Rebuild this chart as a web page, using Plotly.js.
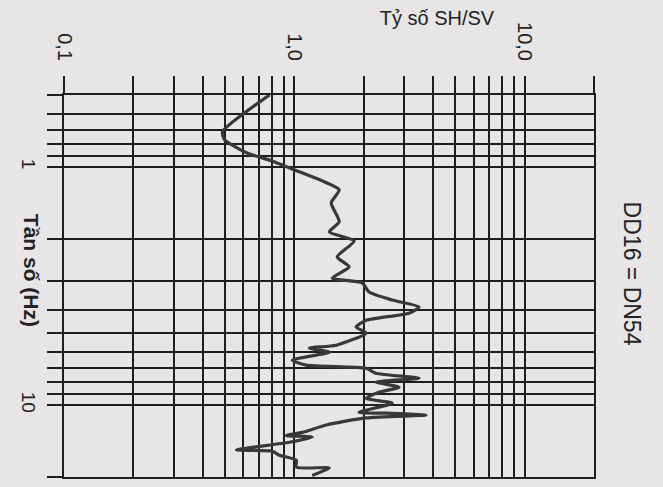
<!DOCTYPE html>
<html>
<head>
<meta charset="utf-8">
<script src="https://cdn.plot.ly/plotly-3.0.1.min.js"></script>
<style>html,body{margin:0;padding:0;background:#e7e5e6;}#chart{width:663px;height:487px;}</style>
</head>
<body>
<div id="chart"></div>
<script>
// Frequency (Hz), top to bottom
const freqHz = [0.5, 0.713, 0.77, 0.873, 0.944, 1.05, 1.156, 1.249, 1.417, 1.70, 1.876, 2.046, 2.388, 2.63, 2.93, 3.07, 3.35, 3.62, 3.87, 4.11, 4.40, 4.70, 4.98, 5.60, 5.76, 5.99, 6.47, 6.79, 7.0, 7.34, 7.70, 8.0, 8.40, 8.82, 9.35, 9.81, 10.7, 10.8, 11.0, 11.3, 12.1, 13.0, 13.4, 13.6, 14.3, 15.4, 15.6, 16.2, 17.0, 18.2, 18.3, 19.7];
// SH/SV ratio at each frequency
const shsvRatio = [0.78, 0.488, 0.498, 0.619, 0.795, 1.051, 1.349, 1.566, 1.446, 1.566, 1.418, 1.819, 1.535, 1.73, 1.461, 1.969, 2.11, 2.66, 3.48, 3.15, 2.05, 1.855, 2.05, 1.52, 1.162, 1.418, 0.98, 1.127, 2.05, 2.26, 3.48, 2.26, 2.85, 2.33, 2.05, 2.66, 1.91, 2.5, 3.73, 2.05, 1.376, 1.083, 0.923, 1.196, 0.952, 0.561, 0.803, 0.861, 1.02, 1.02, 1.418, 1.196];

const xGridVals = [0.1,0.2,0.3,0.4,0.5,0.6,0.7,0.8,0.9,1,2,3,4,5,6,7,8,9,10,20];
const xTickText = ['0,1','','','','','','','','','1,0','','','','','','','','','10,0',''];
const yGridVals = [0.5,0.6,0.7,0.8,0.9,1,2,3,4,5,6,7,8,9,10,20];
const yTickText = ['','','','','','1','','','','','','','','','10',''];

const titleText = 'Tỷ số SH/SV';
const yTitleText = 'Tần số (Hz)';
const sideLabel = 'DD16 = DN54';

const trace = {
  x: shsvRatio,
  y: freqHz,
  type: 'scatter',
  mode: 'lines',
  line: {color: '#383838', width: 3.2, shape: 'spline', smoothing: 0.6},
  hoverinfo: 'skip',
  showlegend: false
};

const axisCommon = {
  type: 'log',
  tickmode: 'array',
  tickangle: 90,
  ticks: 'outside',
  tickwidth: 2,
  tickcolor: '#1e1e1e',
  tickfont: {size: 20, color: '#222'},
  showgrid: true,
  gridcolor: '#1e1e1e',
  gridwidth: 2,
  showline: true,
  linecolor: '#1e1e1e',
  linewidth: 2,
  mirror: true,
  zeroline: false,
  fixedrange: true
};

const layout = {
  width: 663,
  height: 487,
  margin: {l: 64, r: 69, t: 95, b: 10},
  paper_bgcolor: '#e7e5e6',
  plot_bgcolor: '#e7e5e6',
  font: {family: 'Liberation Sans, Arial, sans-serif', color: '#222'},
  title: {
    text: titleText,
    x: 0.659, xanchor: 'center',
    y: 0.963, yanchor: 'middle',
    font: {size: 20, color: '#222', family: 'Liberation Sans, Arial, sans-serif'}
  },
  xaxis: Object.assign({}, axisCommon, {
    side: 'top',
    range: [-1, Math.log10(20)],
    tickvals: xGridVals,
    ticktext: xTickText,
    ticklen: 17,
    ticklabelstandoff: 8
  }),
  yaxis: Object.assign({}, axisCommon, {
    range: [Math.log10(20), Math.log10(0.5)],
    tickvals: yGridVals,
    ticktext: yTickText,
    ticklen: 15,
    ticklabelstandoff: 2,
    tickfont: {size: 19, color: '#222'}
  }),
  annotations: [
    {
      text: '<b>' + yTitleText + '</b>',
      xref: 'paper', yref: 'paper',
      x: -0.062, y: 0.542,
      xanchor: 'center', yanchor: 'middle',
      textangle: 90, showarrow: false,
      font: {size: 21, color: '#222', family: 'Liberation Sans, Arial, sans-serif'}
    },
    {
      text: sideLabel,
      xref: 'paper', yref: 'paper',
      x: 1.072, y: 0.532,
      xanchor: 'center', yanchor: 'middle',
      textangle: 90, showarrow: false,
      font: {size: 23, color: '#222', family: 'Liberation Sans, Arial, sans-serif'}
    }
  ]
};

Plotly.newPlot('chart', [trace], layout, {staticPlot: true, displayModeBar: false});
</script>
</body>
</html>
